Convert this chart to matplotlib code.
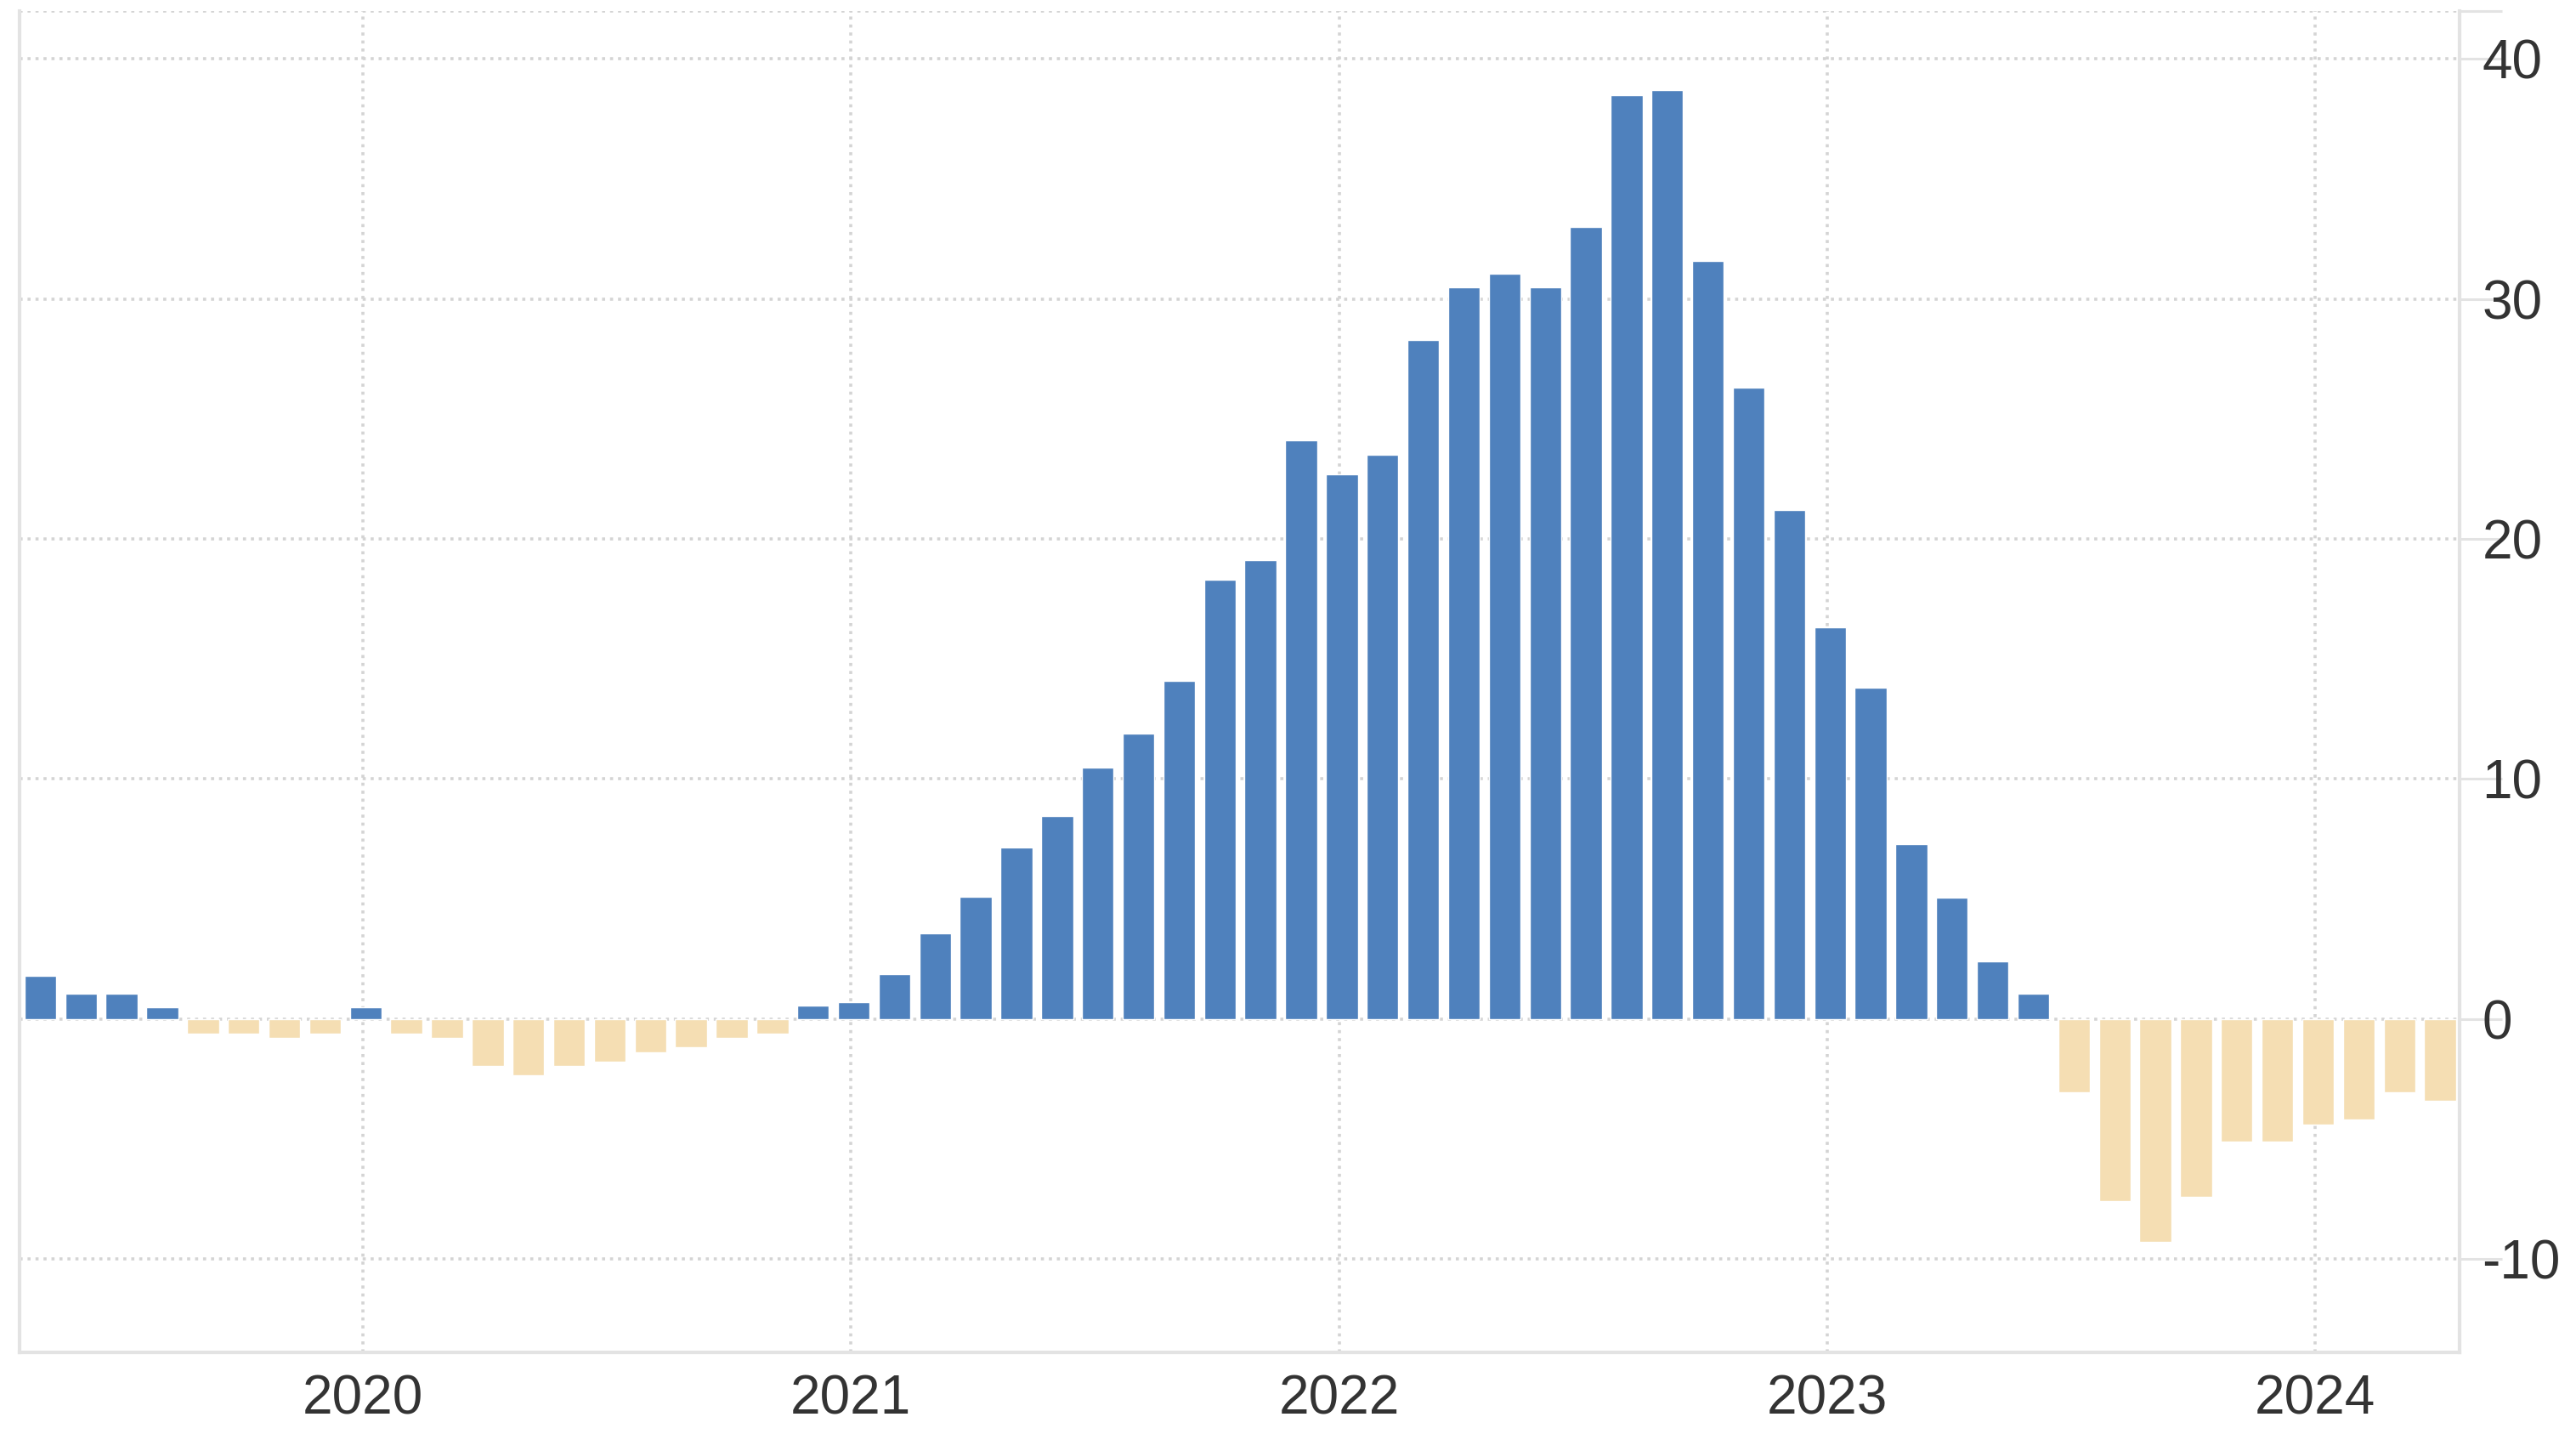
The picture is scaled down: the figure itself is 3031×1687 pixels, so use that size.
import matplotlib.pyplot as plt
import pandas as pd

# monthly year-on-year change, May 2019 .. Apr 2024
months = pd.period_range("2019-05", "2024-04", freq="M")
values = [
    1.8, 1.05, 1.05, 0.5, -0.6, -0.6, -0.8, -0.6,
    0.5, -0.6, -0.8, -1.95, -2.35, -1.95, -1.8, -1.4, -1.2, -0.8, -0.6, 0.55,
    0.7, 1.85, 3.55, 5.07, 7.14, 8.46, 10.47, 11.9, 14.1, 18.3, 19.1, 24.1,
    22.7, 23.5, 28.3, 30.5, 31.05, 30.5, 33.0, 38.5, 38.7, 31.6, 26.3, 21.2,
    16.3, 13.8, 7.3, 5.05, 2.4, 1.05, -3.05, -7.6, -9.3, -7.4, -5.1, -5.1,
    -4.4, -4.2, -3.05, -3.4,
]
year_labels = ["2020", "2021", "2022", "2023", "2024"]
y_ticks = [-10, 0, 10, 20, 30, 40]

POS = "#4f81bd"
NEG = "#f5deb3"
GRID = "#d4d4d4"
SPINE = "#e3e3e3"
TEXT = "#333333"

plt.rcParams["font.family"] = ["Liberation Sans", "DejaVu Sans"]

base = pd.Period("2020-01", freq="M")
# bars sit a touch to the right of the month start
x = [(m - base).n + 0.07 for m in months]
colors = [POS if v >= 0 else NEG for v in values]

fig = plt.figure(figsize=(30.31, 16.87), dpi=100)
ax = fig.add_axes([0.0076, 0.0569, 0.9472, 0.9354])

ax.bar(x, values, width=0.78, color=colors, edgecolor="white", linewidth=1.0, zorder=3)

y_top = 42.0
ax.set_xlim(-8.44, 51.55)
ax.set_ylim(-13.9, y_top)

year_x = [12 * i for i in range(len(year_labels))]
ax.set_xticks(year_x)
ax.set_xticklabels(year_labels)
ax.set_yticks(y_ticks + [y_top])
ax.set_yticklabels([str(t) for t in y_ticks] + [""])

ax.yaxis.tick_right()
ax.tick_params(axis="x", length=0, pad=18, labelsize=46, labelcolor=TEXT)
ax.tick_params(axis="y", direction="out", length=36, width=2.2, color=SPINE,
               pad=-17, labelsize=46, labelcolor=TEXT)
for lbl in ax.get_yticklabels():
    lbl.set_horizontalalignment("left")

ax.grid(True, color=GRID, linestyle=(0, (1, 1.6)), linewidth=2.6, zorder=0)
ax.set_axisbelow(True)

for side in ["left", "right", "bottom"]:
    ax.spines[side].set_color(SPINE)
    ax.spines[side].set_linewidth(3)
ax.spines["top"].set_visible(False)

fig.savefig("out.png", dpi=100, facecolor="white")
